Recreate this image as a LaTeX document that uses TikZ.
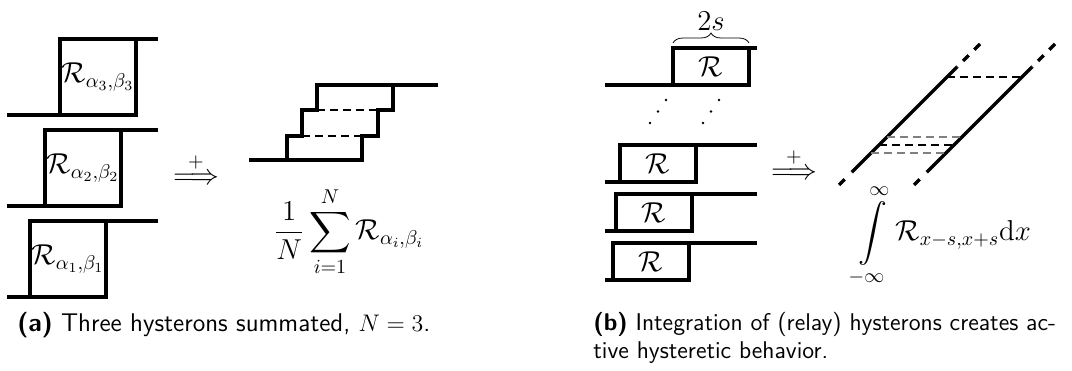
\documentclass[tikz,border=0pt]{standalone}
\usepackage{amsmath,amssymb}
\usetikzlibrary{arrows.meta,positioning,calc,decorations.pathreplacing}

\begin{document}
\begin{tikzpicture}[x=0.5pt,y=-0.5pt,
  hyst/.style={line width=1.6pt},
  band/.style={line width=0.6pt, dash pattern=on 4pt off 2.5pt},
  ext/.style={line width=1.6pt, dash pattern=on 4pt off 4pt},
  lbl/.style={font=\fontsize{14.4}{17}\selectfont, inner sep=0pt},
  capt/.style={font=\fontsize{12.8}{14}\selectfont\sffamily, inner sep=0pt, anchor=base west, align=left}
]
\useasboundingbox (0,0) rectangle (1072,370);

% (a) three relays and their sum
\foreach \xl/\yt/\k in {60/39/3, 45/130/2, 30/221/1}{
  \draw[hyst] (7,\yt+76) -| (\xl+76,\yt) -- (158,\yt);
  \draw[hyst] (\xl,\yt+76) |- (\xl+76,\yt);
  \node[lbl, anchor=west] (r\k) at (\xl+1,\yt+38) {$\mathcal{R}_{\alpha_\k,\beta_\k}$};
}
\node[lbl, anchor=base] (plusa) at (196,184) {$\overset{+}{\Longrightarrow}$};
\draw[hyst] (249,160) -| (362,136) -| (378,110) -| (393,85) -- (438,85);
\draw[hyst] (287,160) |- (302,136) |- (317,110) |- (393,85);
\draw[band] (317,110) -- (378,110);
\draw[band] (302,136) -- (362,136);
\node[lbl] (suma) at (349,232) {$\displaystyle\frac{1}{N}\sum_{i=1}^{N}\mathcal{R}_{\alpha_i,\beta_i}$};
\node[capt] (capa) at (17,331) {\textbf{(a)} Three hysterons summated, $N=3$.};

% (b) continuum of relays
\foreach \xl/\yt/\k in {673/48/n, 620/145/c, 616/194/b, 613/243/a}{
  \draw[hyst] (605,\yt+37) -| (\xl+76,\yt) -- (757,\yt);
  \draw[hyst] (\xl,\yt+37) |- (\xl+76,\yt);
  \node[lbl] (q\k) at (\xl+38,\yt+19) {$\mathcal{R}$};
}
\draw[decorate, decoration={brace, amplitude=5pt}] (673,43) -- (749,43)
  node[lbl, midway, above=6pt] (width) {$2s$};
\foreach \dx in {0,53}
  \foreach \p in {0,1,2}
    \fill (666+\dx-8*\p,100+11.5*\p) circle (0.7pt);
\node[lbl, anchor=base] (plusb) at (794,179) {$\overset{+}{\Longrightarrow}$};
\draw[hyst] (852,172) -- (957,67);
\draw[hyst] (927,172) -- (1032,67);
\draw[ext] (980,44) -- (957,67);
\draw[ext] (1055,44) -- (1032,67);
\draw[ext, dash pattern=on 4pt off 5pt] (839,185) -- (852,172);
\draw[ext, dash pattern=on 4pt off 5pt] (914,185) -- (927,172);
\draw[band] (947,77) -- (1022,77);
\draw[band, gray] (887,137) -- (962,137);
\draw[band] (879,145) -- (954,145);
\draw[band, gray] (871,153) -- (946,153);
\node[lbl] (intb) at (943,236) {$\displaystyle\int\limits_{-\infty}^{\infty}\mathcal{R}_{x-s,x+s}\mathrm{d}x$};
\node[capt, font=\fontsize{12.1}{14}\selectfont\sffamily] (capb) at (593,358)
  {\textbf{(b)} Integration of (relay) hysterons creates ac-\\tive hysteretic behavior.};
\end{tikzpicture}
\end{document}
